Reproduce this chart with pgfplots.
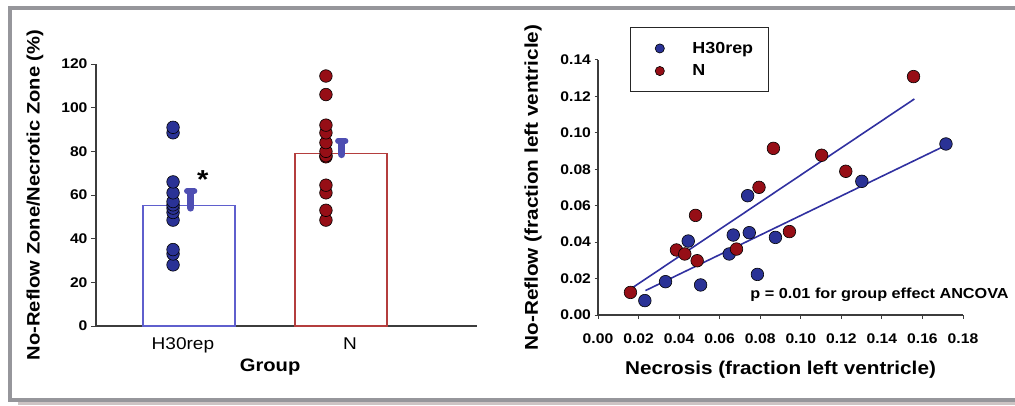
\documentclass[border=0pt]{standalone}
\usepackage{pgfplots}
\pgfplotsset{compat=1.18}
\usepackage{fontspec}
\setmainfont[FakeStretch=1.12]{Liberation Sans}

\definecolor{hblue}{RGB}{42,50,150}
\definecolor{nred}{RGB}{150,14,22}
\definecolor{barblue}{RGB}{95,95,205}
\definecolor{barred}{RGB}{180,62,62}
\definecolor{meanblue}{RGB}{78,78,178}
\definecolor{fitblue}{RGB}{48,48,160}
\definecolor{axisgray}{RGB}{60,60,60}
\definecolor{framegray}{RGB}{150,150,155}
\definecolor{shadow}{RGB}{205,196,196}

\newcommand{\fs}[1]{\fontsize{#1}{#1}\selectfont}

\begin{document}
\begin{tikzpicture}[x=1pt,y=1pt]

% outer frame
\fill[shadow] (18,0) rectangle (1015,3.5);
\draw[framegray, line width=3.4pt] (1015,397) -- (10,397) -- (10,5) -- (1015,5);

% ---------- left panel: ratio by group ----------
\begin{axis}[
    at={(96pt,79pt)}, anchor=south west,
    scale only axis, width=381pt, height=262pt,
    xmin=-0.612, xmax=1.895, ymin=0, ymax=120,
    axis lines=left,
    axis line style={-, line width=1.1pt, axisgray},
    tick align=outside, tick pos=left,
    ytick={0,20,...,120},
    major tick length=5pt,
    y tick style={line width=1pt, axisgray},
    xtick={-0.04,1.06}, xticklabels={H30rep,N},
    x tick style={draw=none},
    xticklabel style={font=\fs{17}, yshift=-3pt},
    yticklabel style={font=\fs{14}\bfseries},
    /pgf/number format/assume math mode=true,
    ylabel={No-Reflow Zone/Necrotic Zone (\%)},
    ylabel style={font=\fs{18}\bfseries, at={(axis description cs:-0.160,0.5)}, anchor=center},
    xlabel={Group},
    xlabel style={font=\fs{18}\bfseries, at={(axis description cs:0.457,-0.156)}, anchor=center},
    clip=false,
]
% bars (group means)
\addplot[ybar, bar width=0.605, bar shift=0pt, draw=barblue, line width=1.3pt, fill=white]
    coordinates {(0,55.1)};
\addplot[ybar, bar width=0.605, bar shift=0pt, draw=barred, line width=1.3pt, fill=white]
    coordinates {(1,78.9)};
% individual values
\addplot[only marks, mark=*, mark size=6.3pt, fill=hblue, draw=black, line width=0.6pt]
    coordinates {(-0.105,28) (-0.105,33) (-0.105,35) (-0.105,48.5) (-0.105,52)
                 (-0.105,54) (-0.105,55.5) (-0.105,57) (-0.105,61) (-0.105,66)
                 (-0.105,88.5) (-0.105,91)};
\addplot[only marks, mark=*, mark size=6.3pt, fill=nred, draw=black, line width=0.6pt]
    coordinates {(0.901,48.5) (0.901,53) (0.901,61) (0.901,64.5) (0.901,77.5)
                 (0.901,78) (0.901,80) (0.901,84) (0.901,88.5) (0.901,92)
                 (0.901,106) (0.901,114.5)};
% mean + SEM markers
\addplot[meanblue, line width=7pt, line cap=round] coordinates {(0.011,54) (0.011,60.5)};
\addplot[meanblue, line width=6pt, line cap=round] coordinates {(-0.013,61.8) (0.035,61.8)};
\addplot[meanblue, line width=7pt, line cap=round] coordinates {(1.005,78.5) (1.005,83.5)};
\addplot[meanblue, line width=6pt, line cap=round] coordinates {(0.981,84.8) (1.029,84.8)};
\node[font=\fs{26}\bfseries] at (axis cs:0.09,67) {*};
\end{axis}

% ---------- right panel: no-reflow vs necrosis ----------
\begin{axis}[
    at={(598pt,90pt)}, anchor=south west,
    scale only axis, width=365pt, height=255pt,
    xmin=0, xmax=0.18, ymin=0, ymax=0.14,
    axis lines=left,
    axis line style={-, line width=1.1pt, axisgray},
    tick align=outside, tick pos=left,
    major tick length=3.5pt,
    tick style={line width=1pt, axisgray},
    xtick={0,0.02,0.04,0.06,0.08,0.10,0.12,0.14,0.16,0.18},
    ytick={0,0.02,0.04,0.06,0.08,0.10,0.12,0.14},
    scaled ticks=false,
    /pgf/number format/.cd, fixed, fixed zerofill, precision=2, assume math mode=true,
    /pgfplots/.cd,
    ticklabel style={font=\fs{14}\bfseries},
    xticklabel style={yshift=-12pt},
    ylabel={No-Reflow (fraction left ventricle)},
    ylabel style={font=\fs{18.5}\bfseries, at={(axis description cs:-0.178,0.5)}, anchor=center},
    xlabel={Necrosis (fraction left ventricle)},
    xlabel style={font=\fs{18.5}\bfseries, at={(axis description cs:0.5,-0.216)}, anchor=center},
    clip=false,
    legend style={at={(axis description cs:0.0877,1.129)}, anchor=north west,
        draw=black!85, line width=1pt, fill=white, font=\fs{16}\bfseries,
        inner xsep=12pt, inner ysep=11.5pt, row sep=4pt,
        nodes={inner sep=3pt},
        /tikz/every odd column/.append style={column sep=25pt}},
    legend cell align=left,
    legend image code/.code={\path (-17pt,0); \draw[#1, mark size=4.6pt] plot coordinates {(0pt,0pt)};},
]
\addplot[only marks, mark=*, mark size=6.3pt, fill=hblue, draw=black, line width=0.6pt]
    coordinates {(0.0231,0.0079) (0.0333,0.0183) (0.0445,0.0406) (0.0506,0.0165)
                 (0.0647,0.0335) (0.0667,0.0439) (0.0738,0.0655) (0.0746,0.0452)
                 (0.0786,0.0223) (0.0875,0.0426) (0.1301,0.0734) (0.1716,0.0939)};
\addlegendentry{H30rep}
\addplot[only marks, mark=*, mark size=6.3pt, fill=nred, draw=black, line width=0.6pt]
    coordinates {(0.0160,0.0124) (0.0387,0.0357) (0.0428,0.0335) (0.0481,0.0547)
                 (0.0489,0.0298) (0.0683,0.0362) (0.0794,0.0701) (0.0865,0.0915)
                 (0.0944,0.0458) (0.1103,0.0877) (0.1222,0.0789) (0.1556,0.1309)};
\addlegendentry{N}
% regression lines
\addplot[fitblue, line width=1.6pt, forget plot] coordinates {(0.0165,0.0146) (0.1560,0.1186)};
\addplot[fitblue, line width=1.6pt, forget plot] coordinates {(0.0234,0.0134) (0.1713,0.0930)};
\node[anchor=west, font=\fs{14.5}\bfseries, inner sep=0pt] at (axis cs:0.0751,0.011)
    {p = 0.01 for group effect ANCOVA};
\end{axis}

\pgfresetboundingbox
\path (0,0) rectangle (1015,405);
\end{tikzpicture}
\end{document}
